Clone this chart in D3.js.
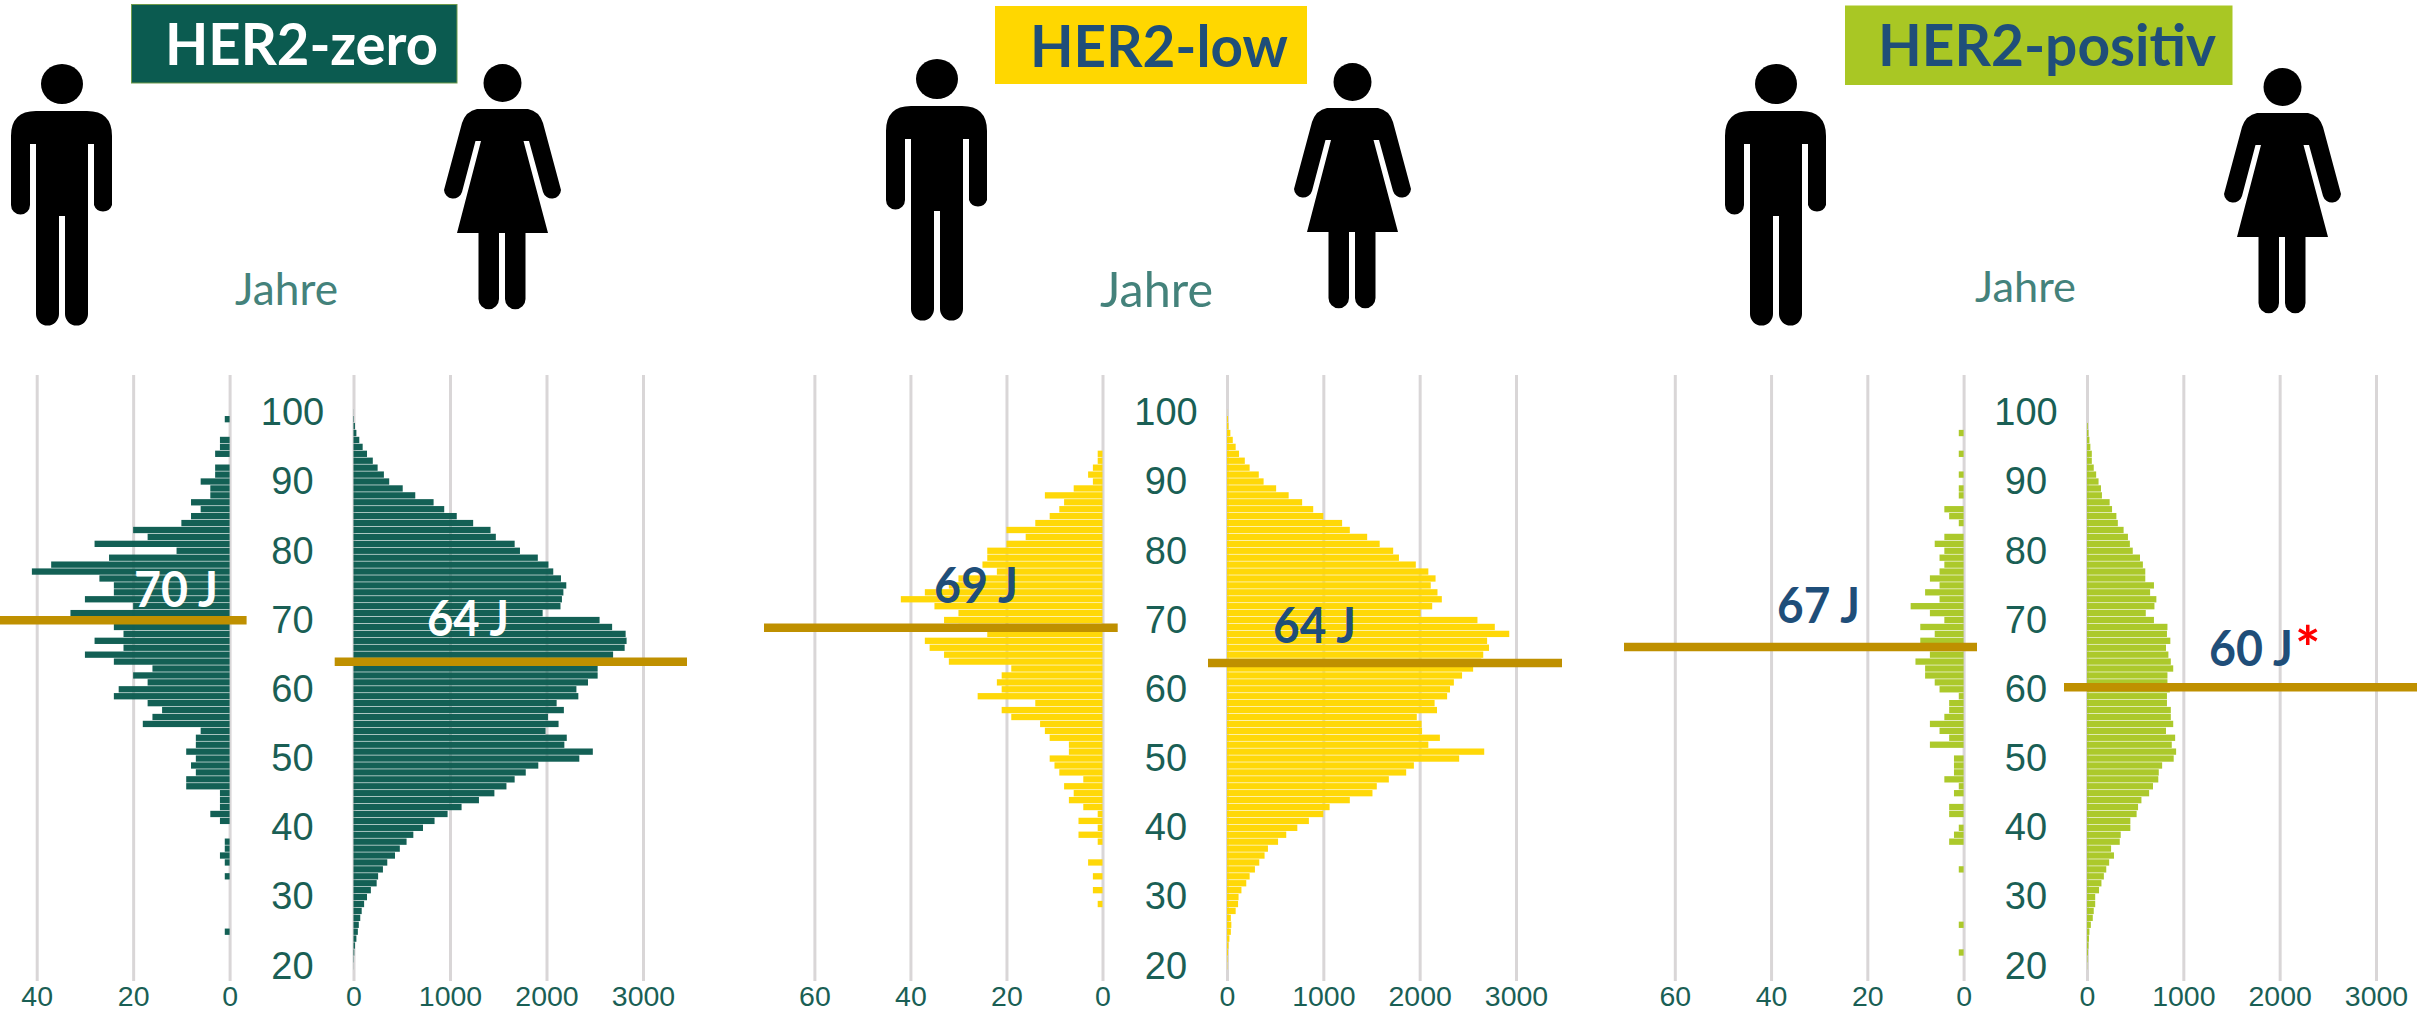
<!DOCTYPE html>
<html>
<head>
<meta charset="utf-8">
<title>HER2 Altersverteilung</title>
<script src="https://cdn.jsdelivr.net/npm/d3@7"></script>
<style>
    html, body { margin: 0; padding: 0; background: #fff; }
    svg { display: block; }
</style>
</head>
<body>
<svg id="chart" width="2423" height="1014"></svg>
<script>
// ages run top to bottom, 100 down to 20, one bar per year
var ages = d3.range(100, 19, -1);
var ageTicks = [100, 90, 80, 70, 60, 50, 40, 30, 20];

var titles = ["HER2-zero", "HER2-low", "HER2-positiv"];

// values
var zeroMen = [0,1,0,0,2,2,3,0,3,3,6,4,4,8,6,8,10,20,17,28,11,25,37,41,27,24,24,30,20,33,26,24,22,28,22,30,24,16,20,17,23,24,17,14,16,18,6,7,7,9,7,8,7,9,9,2,2,2,4,2,0,0,1,1,2,1,0,1,0,0,0,0,0,0,0,1,0,0,0,0,0];
var zeroWomen = [1,5,15,30,60,95,140,200,250,315,370,510,640,830,940,1070,1240,1420,1475,1670,1725,1910,2020,2070,2150,2205,2175,2160,2145,1960,2550,2680,2820,2830,2810,2690,2600,2530,2530,2430,2310,2330,2105,2180,2015,2125,1990,2210,2185,2480,2340,1915,1785,1670,1585,1460,1300,1120,975,840,720,620,550,480,430,350,305,255,240,180,140,110,85,70,55,45,30,15,8,3,1];

var lowMen = [0,0,0,0,0,0,1,1,2,3,2,6,12,8,9,11,14,20,16,20,24,24,25,22,30,32,37,42,35,30,33,30,24,37,36,33,32,19,21,22,21,26,14,21,19,13,12,11,7,7,11,10,9,4,8,6,7,4,1,5,1,5,1,0,0,3,0,2,0,2,0,1,0,0,0,0,0,0,0,0,0];
var lowWomen = [1,10,15,35,60,90,125,185,235,330,380,510,640,780,895,1000,1195,1275,1455,1585,1725,1785,1960,2090,2165,2115,2185,2230,2130,2010,2600,2780,2930,2700,2720,2660,2640,2555,2440,2355,2315,2285,2155,2180,1970,2020,2025,2210,2090,2670,2410,1940,1860,1680,1555,1510,1275,1065,1000,850,730,615,530,425,390,335,290,235,200,150,120,115,90,40,45,40,25,15,10,5,3];

var posMen = [0,0,0,1,0,0,1,0,0,1,0,1,1,0,4,3,1,0,4,6,4,5,4,5,7,5,8,5,11,7,4,9,6,9,7,7,10,8,8,6,5,1,3,3,4,7,5,3,7,0,2,2,2,4,1,2,0,3,3,0,1,2,3,0,0,0,1,0,0,0,0,0,0,0,1,0,0,0,1,0,0];
var posWomen = [0,0,8,15,25,35,50,50,70,95,120,145,155,235,260,305,320,380,425,445,475,550,580,605,605,695,655,720,700,610,695,835,830,865,820,845,870,895,835,835,860,830,830,870,870,895,820,915,880,925,900,780,745,740,685,645,565,530,515,450,450,350,340,250,280,230,200,175,150,125,85,85,70,60,40,25,20,15,10,5,2];

// medians: printed label and where the line actually sits
var menLabels = ["70 J", "69 J", "67 J"];
var womenLabels = ["64 J", "64 J", "60 J"];
var menLineAge = [70, 68.9, 66.1];
var womenLineAge = [64, 63.8, 60.3];

var menTicks = [[0, 20, 40], [0, 20, 40, 60], [0, 20, 40, 60]];
var womenTicks = [0, 1000, 2000, 3000];

// layout of the three panels
var panels = [
    {color: "#0b5b50", titleColor: "#ffffff", labelColor: "#ffffff", men: zeroMen, women: zeroWomen,
     box: [131.5, 4.5, 325.5, 78.5], boxStroke: "#6f9a4a", titleX: 165, titleW: 273, titleY: 65,
     menRange: [229.6, 36.7], menMax: 40, womenRange: [353.5, 643], ageX: 292.5,
     menLine: [0, 246.6], womenLine: [334.7, 687],
     menText: [134, 84, 589], womenText: [427, 82, 618],
     man: [11, 64], woman: [444, 64], jahre: [235, 305, 103, 44]},
    {color: "#ffd700", titleColor: "#1f4e79", labelColor: "#1f4e79", men: lowMen, women: lowWomen,
     box: [995, 6, 312, 78], boxStroke: "none", titleX: 1030, titleW: 258, titleY: 66.5,
     menRange: [1102.5, 814.4], menMax: 60, womenRange: [1227, 1516], ageX: 1166,
     menLine: [764, 1117.7], womenLine: [1208, 1562],
     menText: [934, 84, 585], womenText: [1273, 83, 625],
     man: [886, 59], woman: [1294, 63], jahre: [1100, 307, 113, 48]},
    {color: "#a9c724", titleColor: "#1f4e79", labelColor: "#1f4e79", men: posMen, women: posWomen,
     box: [1845, 5.5, 387.5, 79.5], boxStroke: "none", titleX: 1878, titleW: 338, titleY: 66,
     menRange: [1963.6, 1674.8], menMax: 60, womenRange: [2087, 2376], ageX: 2026,
     menLine: [1624, 1977], womenLine: [2064, 2417],
     menText: [1777, 83, 605.6], womenText: [2209, 84, 648],
     man: [1725, 64], woman: [2224, 68], jahre: [1975, 302, 101, 42]}
];

var manPath = "M25,47 L76,47 Q101,47 101,72 L101,141 A9.5,9.5 0 0 1 83,141 L83,80 L77,80 L77,250 A11.5,11.5 0 0 1 54,250 L54,152 L48,152 L48,250 A11.5,11.5 0 0 1 25,250 L25,80 L19,80 L19,141 A9.5,9.5 0 0 1 0,141 L0,72 Q0,47 25,47 Z";
var womanPath = "M33,45 L84,45 Q95,47 99,59 L117,126 A9.2,9.2 0 0 1 99,128 L85,77 L79.5,77 L104,169 L81.5,169 L81.5,235 A10.25,10.25 0 0 1 61,235 L61,169 L55,169 L55,235 A10.25,10.25 0 0 1 34.5,235 L34.5,169 L13,169 L37,77 L31.5,77 L18,128 A9.2,9.2 0 0 1 0,126 L18,59 Q22,47 33,45 Z";

var gridTop = 375, gridBottom = 981;
var textGreen = "#1a5f55", gridColor = "#d9d6d7", lineColor = "#bf9000";
var sansFont = "'Liberation Sans', Arial, sans-serif", boldFont = "Lato, sans-serif";

var svg = d3.select("#chart");

// age scale is shared by all panels
var yBand = d3.scaleBand().domain(ages).range([409.1, 969.5]).paddingInner(0.09);
var yLine = d3.scaleLinear().domain([100, 20]).range([412.6, 966]);

function drawSide(g, values, xScale, ticks, color) {
    var axis = d3.axisBottom(xScale)
        .tickValues(ticks)
        .tickFormat(d3.format("d"))
        .tickSizeInner(-(gridBottom - gridTop))
        .tickSizeOuter(0)
        .tickPadding(5);
    var ax = g.append("g").attr("transform", "translate(0," + gridBottom + ")").call(axis);
    ax.select(".domain").remove();
    ax.selectAll("line").attr("stroke", gridColor).attr("stroke-width", 3);
    ax.selectAll("text")
        .attr("fill", textGreen)
        .attr("font-family", sansFont)
        .attr("font-size", 28.5);

    g.selectAll("rect.bar")
        .data(values.map(function (v, i) { return {age: ages[i], value: v}; })
                    .filter(function (d) { return d.value > 0; }))
        .enter()
        .append("rect")
        .attr("class", "bar")
        .attr("x", function (d) { return Math.min(xScale(0), xScale(d.value)); })
        .attr("y", function (d) { return yBand(d.age); })
        .attr("width", function (d) { return Math.abs(xScale(d.value) - xScale(0)); })
        .attr("height", yBand.bandwidth())
        .attr("fill", color)
        .attr("fill-opacity", 0.97);
}

panels.forEach(function (p, i) {
    var g = svg.append("g").attr("class", "panel");

    // title box
    g.append("rect")
        .attr("x", p.box[0]).attr("y", p.box[1])
        .attr("width", p.box[2]).attr("height", p.box[3])
        .attr("fill", p.color)
        .attr("stroke", p.boxStroke);
    g.append("text")
        .attr("x", p.titleX).attr("y", p.titleY)
        .attr("textLength", p.titleW).attr("lengthAdjust", "spacingAndGlyphs")
        .attr("font-family", boldFont).attr("font-weight", 700).attr("font-size", 57)
        .attr("fill", p.titleColor)
        .text(titles[i]);

    // figures
    var man = g.append("g").attr("transform", "translate(" + p.man[0] + "," + p.man[1] + ")");
    man.append("ellipse").attr("cx", 51).attr("cy", 20).attr("rx", 21).attr("ry", 20);
    man.append("path").attr("d", manPath);
    var woman = g.append("g").attr("transform", "translate(" + p.woman[0] + "," + p.woman[1] + ")");
    woman.append("circle").attr("cx", 58.5).attr("cy", 19).attr("r", 19);
    woman.append("path").attr("d", womanPath);

    g.append("text")
        .attr("x", p.jahre[0]).attr("y", p.jahre[1])
        .attr("textLength", p.jahre[2]).attr("lengthAdjust", "spacingAndGlyphs")
        .attr("font-family", "Lato, sans-serif").attr("font-size", p.jahre[3])
        .attr("fill", "#44827b")
        .text("Jahre");

    // two sided bars
    var xMen = d3.scaleLinear().domain([0, p.menMax]).range(p.menRange);
    var xWomen = d3.scaleLinear().domain([0, 3000]).range(p.womenRange);
    drawSide(g.append("g"), p.men, xMen, menTicks[i], p.color);
    drawSide(g.append("g"), p.women, xWomen, womenTicks, p.color);

    // age labels in the middle
    var ageAxis = d3.axisLeft(yLine).tickValues(ageTicks).tickSize(0).tickPadding(0);
    var ag = g.append("g").attr("transform", "translate(" + p.ageX + ",0)").call(ageAxis);
    ag.select(".domain").remove();
    ag.selectAll("text")
        .attr("text-anchor", "middle")
        .attr("fill", textGreen)
        .attr("font-family", sansFont)
        .attr("font-size", 38);

    // median lines
    [[p.menLine, menLineAge[i]], [p.womenLine, womenLineAge[i]]].forEach(function (l) {
        g.append("line")
            .attr("x1", l[0][0]).attr("x2", l[0][1])
            .attr("y1", yLine(l[1])).attr("y2", yLine(l[1]))
            .attr("stroke", lineColor).attr("stroke-width", 8.5);
    });

    // median labels
    [[menLabels[i], p.menText], [womenLabels[i], p.womenText]].forEach(function (t) {
        g.append("text")
            .attr("x", t[1][0]).attr("y", t[1][2])
            .attr("dy", "0.36em")
            .attr("textLength", t[1][1]).attr("lengthAdjust", "spacingAndGlyphs")
            .attr("font-family", boldFont).attr("font-weight", 700).attr("font-size", 49)
            .attr("fill", p.labelColor)
            .text(t[0]);
    });
});

// significance star on the last panel
svg.append("text")
    .attr("x", 2295).attr("y", 670)
    .attr("font-family", boldFont).attr("font-weight", 700).attr("font-size", 60)
    .attr("fill", "#ff0000")
    .text("*");
</script>
</body>
</html>
